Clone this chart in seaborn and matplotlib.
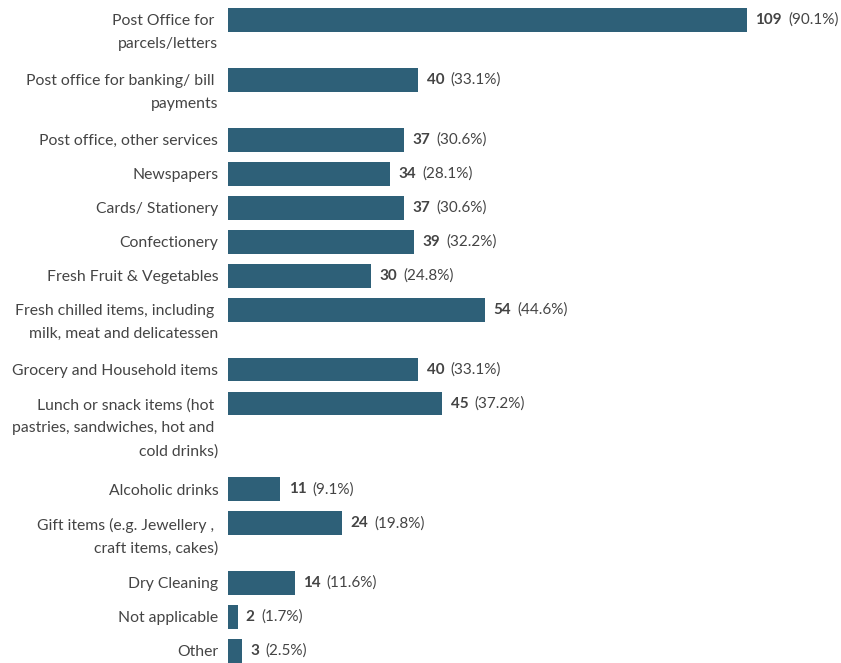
import matplotlib
matplotlib.use('Agg')
import matplotlib.pyplot as plt
import matplotlib.transforms as mtransforms
import seaborn as sns
import numpy as np
import pandas as pd

# Données
labels = [
    "Post Office for \nparcels/letters",
    "Post office for banking/ bill \npayments",
    "Post office, other services",
    "Newspapers",
    "Cards/ Stationery",
    "Confectionery",
    "Fresh Fruit & Vegetables",
    "Fresh chilled items, including \nmilk, meat and delicatessen",
    "Grocery and Household items",
    "Lunch or snack items (hot \npastries, sandwiches, hot and \ncold drinks)",
    "Alcoholic drinks",
    "Gift items (e.g. Jewellery , \ncraft items, cakes)",
    "Dry Cleaning",
    "Not applicable",
    "Other",
]
counts = [109, 40, 37, 34, 37, 39, 30, 54, 40, 45, 11, 24, 14, 2, 3]
percents = ["90.1%", "33.1%", "30.6%", "28.1%", "30.6%", "32.2%", "24.8%", "44.6%",
            "33.1%", "37.2%", "9.1%", "19.8%", "11.6%", "1.7%", "2.5%"]

BAR_COLOR = "#2e6078"
TEXT_COLOR = "#444444"

sns.set_style("white")
plt.rcParams['font.family'] = ['Lato', 'DejaVu Sans']

# Position des barres : une ligne de plus dans l'étiquette = plus d'espace
n_lines = [lab.count("\n") + 1 for lab in labels]
positions = [0.0]
for nl in n_lines[:-1]:
    positions.append(positions[-1] + 1 + 0.76 * (nl - 1))

df = pd.DataFrame({"label": labels, "count": counts, "pos": positions})

fig = plt.figure(figsize=(8.41, 6.63), dpi=100)
ax = fig.add_axes([228 / 841, 0, 1 - 228 / 841, 1])

sns.barplot(data=df, x="count", y="pos", orient="h", native_scale=True,
            color=BAR_COLOR, saturation=1, width=0.7, linewidth=0, ax=ax)

px_per_unit = 34
top = -20 / px_per_unit
ax.set_ylim(top + 663 / px_per_unit, top)
ax.set_xlim(0, (841 - 228) / (519 / 109))

ax.set_xticks([])
ax.set_yticks([])
ax.set_xlabel("")
ax.set_ylabel("")
sns.despine(ax=ax, left=True, bottom=True)

# Étiquettes des catégories (première ligne alignée sur la barre)
trans = mtransforms.blended_transform_factory(ax.transAxes, ax.transData)
trans = mtransforms.offset_copy(trans, fig=fig, x=-7, y=4, units='points')
for lab, p in zip(labels, positions):
    ax.text(0, p, lab, transform=trans, ha='right', va='top', fontsize=11.3,
            color=TEXT_COLOR, linespacing=1.8)

# Valeurs en bout de barre
for c, pct, p in zip(counts, percents, positions):
    t = ax.annotate(str(c), xy=(c, p), xytext=(6, 0), textcoords='offset points',
                    ha='left', va='center', fontsize=11, fontweight='bold',
                    color=TEXT_COLOR)
    ax.annotate("(" + pct + ")", xy=(1, 0.5), xycoords=t, xytext=(4.5, 0),
                textcoords='offset points', ha='left', va='center',
                fontsize=11, color=TEXT_COLOR)

plt.savefig("out.png", dpi=100)
